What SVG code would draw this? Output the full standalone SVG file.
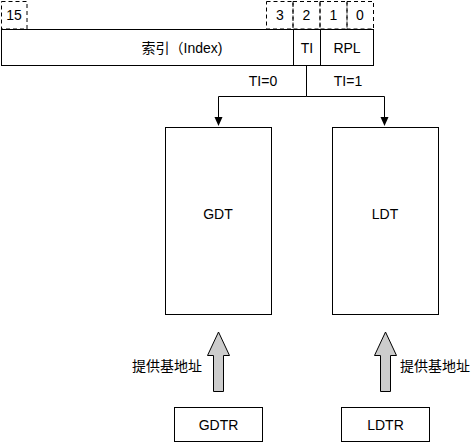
<svg xmlns="http://www.w3.org/2000/svg" width="475" height="443" viewBox="0 0 475 443">
<style>
.box{fill:#fff;stroke:#000;stroke-width:1}
.dash{fill:none;stroke:#000;stroke-width:1;stroke-dasharray:4 3}
.t{font-family:"Liberation Sans","Noto Sans CJK SC",sans-serif;font-size:14px;fill:#000;text-anchor:middle}
.line{fill:none;stroke:#000;stroke-width:1}
.block{fill:#cccccc;stroke:#000;stroke-width:1}
</style>
<rect width="475" height="443" fill="#fff"/>
<g id="bits">
<rect class="dash" x="1.5" y="1.5" width="25.5" height="27.5"/>
<text class="t" x="14" y="20">15</text>
<rect class="dash" x="266.5" y="1.5" width="26.5" height="27.5"/>
<text class="t" x="280" y="20">3</text>
<rect class="dash" x="293" y="1.5" width="27" height="27.5"/>
<text class="t" x="306.5" y="20">2</text>
<rect class="dash" x="320" y="1.5" width="27" height="27.5"/>
<text class="t" x="333.5" y="20">1</text>
<rect class="dash" x="347" y="1.5" width="26.5" height="27.5"/>
<text class="t" x="360" y="20">0</text>
</g>
<g id="selector">
<rect class="box" x="1.5" y="29.5" width="292" height="36"/>
<text class="t" x="182" y="53">索引（Index)</text>
<rect class="box" x="293.5" y="29.5" width="27" height="36"/>
<text class="t" x="307" y="53">TI</text>
<rect class="box" x="320.5" y="29.5" width="53" height="36"/>
<text class="t" x="347" y="53">RPL</text>
</g>
<g id="connectors">
<path class="line" d="M306.5 65.5 V96.5 H218.5 V118"/>
<polygon points="214.5,117 222.5,117 218.5,126" fill="#000"/>
<path class="line" d="M306.5 96.5 H384.5 V118"/>
<polygon points="380.5,117 388.5,117 384.5,126" fill="#000"/>
<text class="t" x="263" y="86">TI=0</text>
<text class="t" x="348" y="86">TI=1</text>
<polygon class="block" points="218.5,332 229.5,355.5 223.5,355.5 223.5,391.5 213.5,391.5 213.5,355.5 207.5,355.5"/>
<polygon class="block" points="385.5,332 396.5,355.5 390.5,355.5 390.5,391.5 380.5,391.5 380.5,355.5 374.5,355.5"/>
<text class="t" x="167" y="371">提供基地址</text>
<text class="t" x="435" y="371">提供基地址</text>
</g>
<g id="gdt">
<rect class="box" x="165.5" y="127.5" width="106" height="187"/>
<text class="t" x="218" y="219">GDT</text>
</g>
<g id="ldt">
<rect class="box" x="332.5" y="127.5" width="106" height="187"/>
<text class="t" x="385" y="219">LDT</text>
</g>
<g id="gdtr">
<rect class="box" x="174.5" y="407.5" width="88" height="34"/>
<text class="t" x="218.5" y="430">GDTR</text>
</g>
<g id="ldtr">
<rect class="box" x="341.5" y="407.5" width="88" height="34"/>
<text class="t" x="385.5" y="430">LDTR</text>
</g>
</svg>
